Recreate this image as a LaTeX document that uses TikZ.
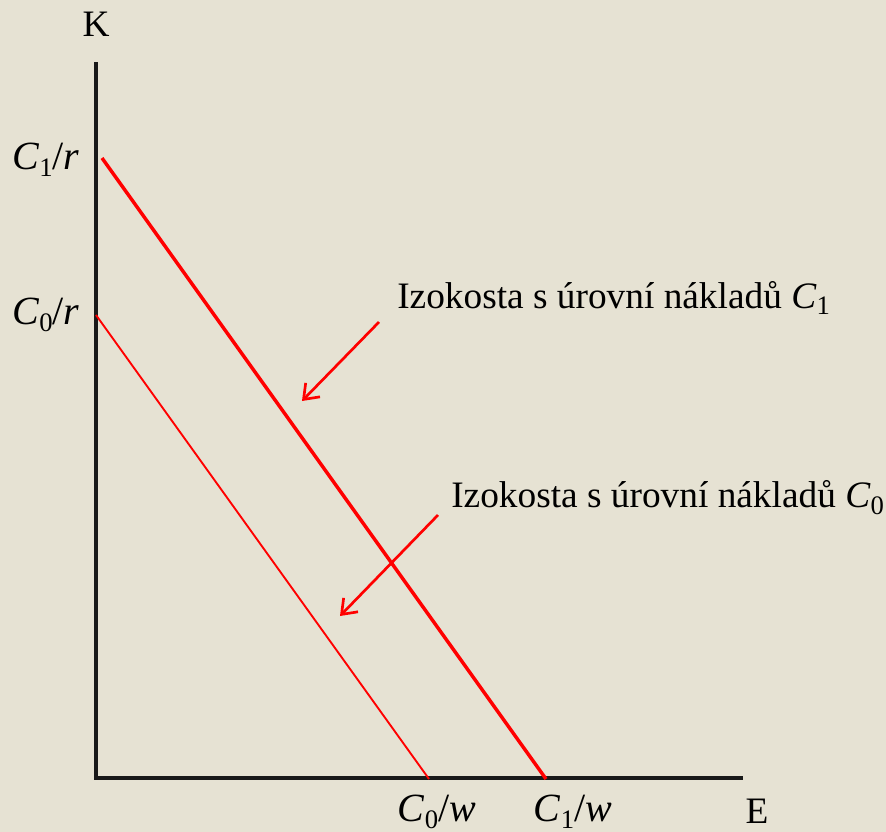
\documentclass[tikz,border=0pt]{standalone}
\usepackage{fontspec}
\setmainfont{Liberation Serif}
\usetikzlibrary{arrows.meta}
\definecolor{bg}{HTML}{E6E2D3}
\definecolor{lred}{HTML}{FF0000}
\tikzset{
  axis/.style={line width=2.3pt, black!90},
  iso/.style={lred, line width=#1},
  callout/.style={lred, line width=2pt, -{Straight Barb[length=10pt,width=15pt,line width=2pt]}},
  lbl/.style={font=\fontsize{28}{32}\selectfont, inner sep=0pt, text=black},
  mlbl/.style={font=\fontsize{30}{34}\selectfont, inner sep=0pt, text=black}
}
\newcommand{\ital}[1]{\textit{#1}}
\newcommand{\sbs}[1]{\raisebox{-0.4ex}{\fontsize{20}{20}\selectfont #1}}
\begin{document}
\begin{tikzpicture}[x=0.75pt,y=-0.75pt]
\fill[bg] (0,0) rectangle (886,832);
\useasboundingbox (0,0) rectangle (886,832);
% axes
\coordinate (O) at (96,778);
\coordinate (Ktop) at (96,62);
\coordinate (Eend) at (743,778);
\draw[axis] (Ktop) -- (O) -- (Eend);
\node[lbl] (K) at (96,24) {K};
\node[lbl] (E) at (757,811) {E};
% isocost lines
\coordinate (c1a) at (102,158);
\coordinate (c1b) at (546,779);
\coordinate (c0a) at (96,315);
\coordinate (c0b) at (429,779);
\draw[iso=2.6pt] (c1a) -- (c1b);
\draw[iso=1.4pt] (c0a) -- (c0b);
% tick labels
\node[mlbl] (c1r) at (46,160) {\ital{C}\sbs{1}/\ital{r}};
\node[mlbl] (c0r) at (46,315) {\ital{C}\sbs{0}/\ital{r}};
\node[mlbl] (c0w) at (437,812) {\ital{C}\sbs{0}/\ital{w}};
\node[mlbl] (c1w) at (573,812) {\ital{C}\sbs{1}/\ital{w}};
% callouts
\node[lbl,anchor=west] (t1) at (397,298) {Izokosta s úrovní nákladů \ital{C}\sbs{1}};
\node[lbl,anchor=west] (t0) at (451,498) {Izokosta s úrovní nákladů \ital{C}\sbs{0}};
\coordinate (a1s) at (379,322);
\coordinate (a1e) at (302,401);
\coordinate (a0s) at (438,515);
\coordinate (a0e) at (340,616);
\draw[callout] (a1s) -- (a1e);
\draw[callout] (a0s) -- (a0e);
\end{tikzpicture}
\end{document}
